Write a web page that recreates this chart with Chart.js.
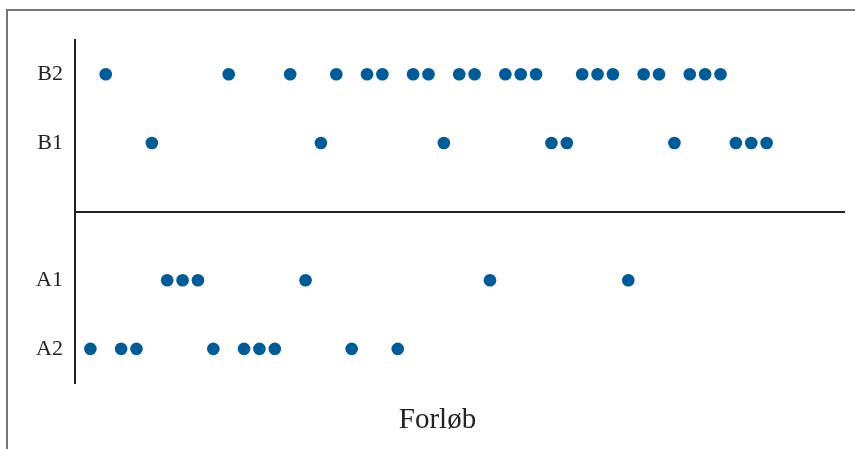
<!DOCTYPE html>
<html>
<head>
<meta charset="utf-8">
<script src="https://cdn.jsdelivr.net/npm/chart.js@4/dist/chart.umd.min.js"></script>
<style>
  html, body { margin: 0; padding: 0; background: #fff; }
  #wrap { position: relative; width: 855px; height: 449px; overflow: hidden; }
  #frame { position: absolute; left: 6px; top: 9px; width: 900px; height: 500px;
           border-left: 2px solid #777; border-top: 2px solid #777; }
  #c { position: absolute; left: 0; top: 0; }
</style>
</head>
<body>
<div id="wrap">
  <div id="frame"></div>
  <canvas id="c" width="855" height="449"></canvas>
</div>
<script>
// Row labels, top to bottom ('' is the divider row)
const categories = ['B2', 'B1', '', 'A1', 'A2'];
// Phase of each successive step of the course (step 1..45)
const sequence = [
  'A2','B2','A2','A2','B1','A1','A1','A1','A2','B2',
  'A2','A2','A2','B2','A1','B1','B2','A2','B2','B2',
  'A2','B2','B2','B1','B2','B2','A1','B2','B2','B2',
  'B1','B1','B2','B2','B2','A1','B2','B2','B1','B2',
  'B2','B2','B1','B1','B1'
];
const xTitle = 'Forløb';
const dividerLabel = '';

const points = sequence.map((c, i) => ({ x: i + 1, y: categories.indexOf(c) }));
const dividerIndex = categories.indexOf(dividerLabel);

new Chart(document.getElementById('c'), {
  type: 'scatter',
  data: {
    datasets: [{
      data: points,
      backgroundColor: '#005b96',
      borderColor: '#005b96',
      pointRadius: 6.3,
      pointHoverRadius: 6.3,
      borderWidth: 0
    }]
  },
  options: {
    responsive: false,
    animation: false,
    layout: { padding: { left: 30, right: 10, top: 40, bottom: 11 } },
    plugins: {
      legend: { display: false },
      tooltip: { enabled: false },
      title: {
        display: true,
        position: 'bottom',
        text: xTitle,
        color: '#222',
        font: { family: 'Liberation Serif', size: 29, weight: 'normal' },
        padding: { top: 20, bottom: 0 }
      }
    },
    scales: {
      x: {
        type: 'linear',
        min: 0,
        max: 50.1,
        display: false
      },
      y: {
        type: 'linear',
        min: -0.5,
        max: categories.length - 0.5,
        reverse: true,
        afterBuildTicks: (s) => { s.ticks = categories.map((_, i) => ({ value: i })); },
        afterFit: (s) => { s.width = 45; },
        ticks: {
          callback: (v) => categories[v],
          color: '#222',
          padding: 12,
          font: { family: 'Liberation Serif', size: 22 }
        },
        grid: {
          drawTicks: false,
          color: (ctx) => (ctx.tick && ctx.tick.value === dividerIndex) ? '#222' : 'rgba(0,0,0,0)',
          lineWidth: 2
        },
        border: { display: true, color: '#222', width: 2 }
      }
    }
  }
});
</script>
</body>
</html>
